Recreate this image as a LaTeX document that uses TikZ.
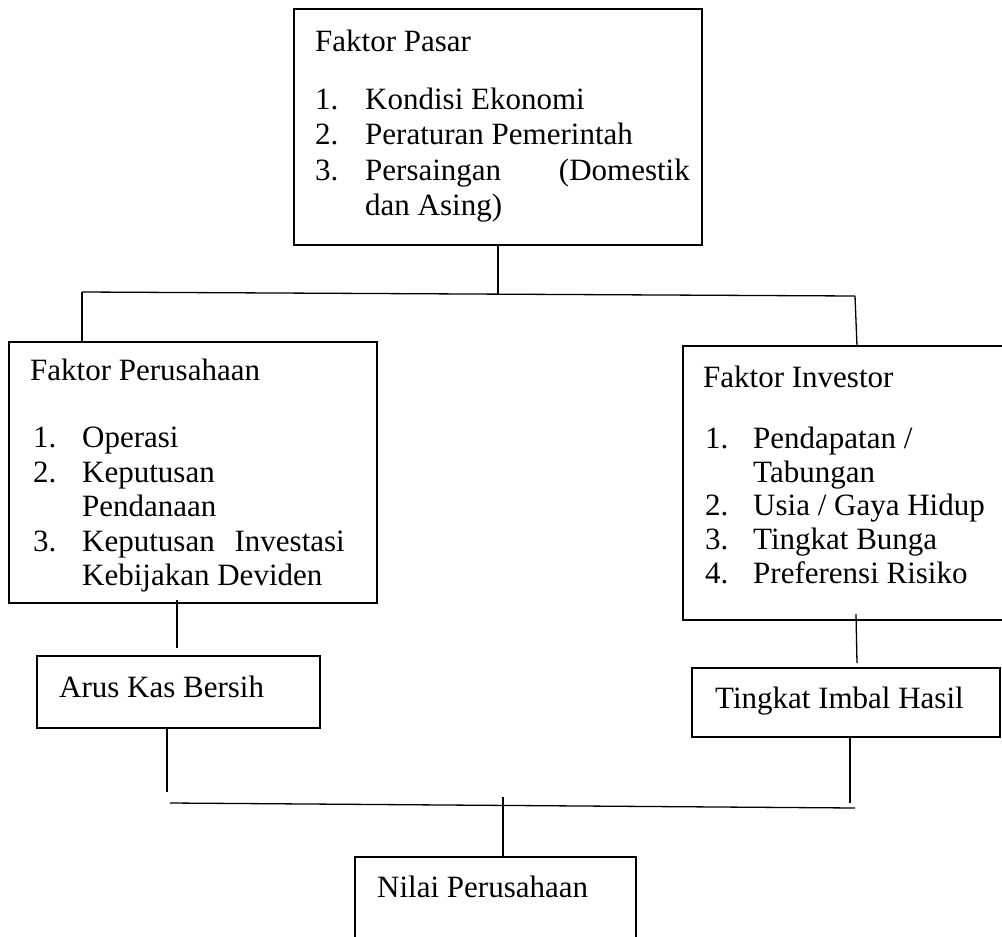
\documentclass[tikz,border=0pt]{standalone}
\usepackage{fontspec}
\setmainfont{Liberation Serif}
\usetikzlibrary{calc}
\begin{document}
\begin{tikzpicture}[x=1pt,y=-1pt,
  box/.style={draw,line width=1.3pt,rectangle,inner sep=0pt,outer sep=0pt,anchor=north west},
  txt/.style={inner sep=0pt,anchor=base west,font=\fontsize{31}{35}\selectfont},
  txte/.style={inner sep=0pt,anchor=base east,font=\fontsize{31}{35}\selectfont},
  conn/.style={line width=1.3pt}]
\useasboundingbox (0,0) rectangle (1002,937);
\clip (0,0) rectangle (1002,937);
% boxes
\node[box,minimum width=408pt,minimum height=236pt] (pasar) at (294,9) {};
\node[box,minimum width=368pt,minimum height=261pt] (perus) at (9,342) {};
\node[box,minimum width=340pt,minimum height=274pt] (inv) at (683,346) {};
\node[box,minimum width=283pt,minimum height=72pt] (arus) at (37,656) {};
\node[box,minimum width=308pt,minimum height=69pt] (imbal) at (692,668) {};
\node[box,minimum width=281pt,minimum height=100pt] (nilai) at (355,857) {};
% texts: Faktor Pasar
\node[txt] (p0) at (315,51) {Faktor Pasar};
\node[txt] (p1n) at (315,109) {1.};
\node[txt] (p1) at (365,109) {Kondisi Ekonomi};
\node[txt] (p2n) at (315,144) {2.};
\node[txt] (p2) at (365,144) {Peraturan Pemerintah};
\node[txt] (p3n) at (315,180) {3.};
\node[txt] (p3) at (365,180) {Persaingan};
\node[txte] (p3b) at (690,180) {(Domestik};
\node[txt] (p4) at (365,215) {dan Asing)};
% Faktor Perusahaan
\node[txt] (f0) at (30,380) {Faktor Perusahaan};
\node[txt] (f1n) at (33,447) {1.};
\node[txt] (f1) at (82,447) {Operasi};
\node[txt] (f2n) at (33,482) {2.};
\node[txt] (f2) at (82,482) {Keputusan};
\node[txt] (f2b) at (82,516) {Pendanaan};
\node[txt] (f3n) at (33,551) {3.};
\node[txt] (f3) at (82,551) {Keputusan};
\node[txte] (f3b) at (345,551) {Investasi};
\node[txt] (f4) at (82,585) {Kebijakan Deviden};
% Faktor Investor
\node[txt] (i0) at (703,387) {Faktor Investor};
\node[txt] (i1n) at (705,448) {1.};
\node[txt] (i1) at (753,448) {Pendapatan /};
\node[txt] (i1b) at (753,482) {Tabungan};
\node[txt] (i2n) at (705,515) {2.};
\node[txt] (i2) at (753,515) {Usia / Gaya Hidup};
\node[txt] (i3n) at (705,549) {3.};
\node[txt] (i3) at (753,549) {Tingkat Bunga};
\node[txt] (i4n) at (705,583) {4.};
\node[txt] (i4) at (753,583) {Preferensi Risiko};
% small boxes text
\node[txt] (a0) at (59,697) {Arus Kas Bersih};
\node[txt] (t0) at (715,708) {Tingkat Imbal Hasil};
\node[txt] (n0) at (377,897) {Nilai Perusahaan};
% junctions
\coordinate (tl) at (82,292);
\coordinate (tr) at (855,296);
\coordinate (tm) at (498,294.5);
\coordinate (pc) at (177,600);
\coordinate (ac) at (167,792);
\coordinate (ic) at (856,614);
\coordinate (icb) at (857,668);
\coordinate (bl) at (170,803);
\coordinate (br) at (855,808);
\coordinate (tc) at (850,803);
\coordinate (bm) at (503,797);
% connectors
\draw[conn] (pasar.south) -- (tm);
\draw[conn] (tl) -- (tr);
\draw[conn] (tl) -- (tl |- perus.north);
\draw[conn] (tr) -- (inv.north -| icb);
\draw[conn] (pc) -- ($(pc |- arus.north)+(0,-8)$);
\draw[conn] (ac |- arus.south) -- (ac);
\draw[conn] (ic) -- ($(icb)+(0,-5)$);
\draw[conn] (tc |- imbal.south) -- (tc);
\draw[conn] (bl) -- (br);
\draw[conn] (bm) -- (bm |- nilai.north);
\end{tikzpicture}
\end{document}
